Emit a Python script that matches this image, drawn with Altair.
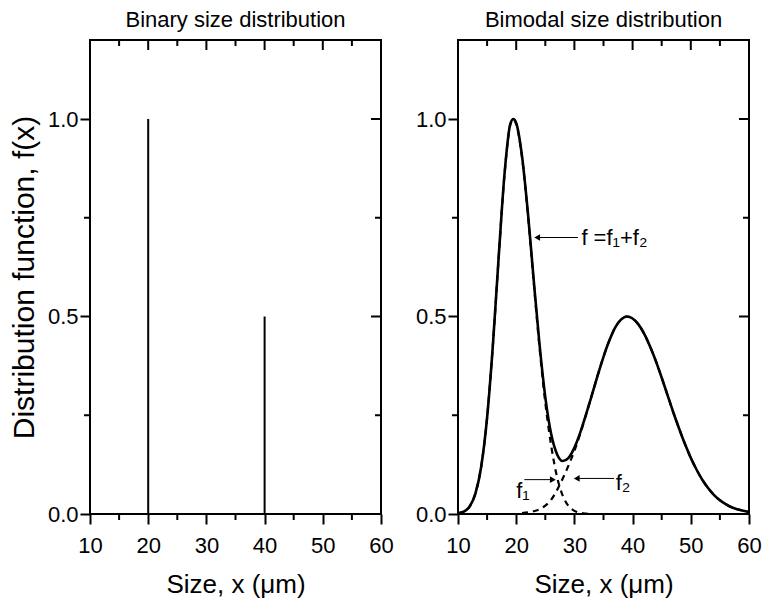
import altair as alt
import pandas as pd

# ---------------- data ----------------
x_vals = [10, 11, 12, 13, 14, 15, 16, 17, 18, 19, 19.5, 20, 21, 22, 23, 24, 25, 26, 27, 28,
          29, 30, 31, 32, 33, 34, 35, 36, 37, 38, 39, 40, 41, 42, 43, 44, 45, 46, 47, 48,
          49, 50, 51, 52, 53, 54, 55, 56, 57, 58, 59, 60]
f_total = [0.002, 0.006, 0.019, 0.052, 0.121, 0.244, 0.429, 0.653, 0.862, 0.988, 1.0, 0.990,
           0.906, 0.764, 0.594, 0.431, 0.296, 0.203, 0.152, 0.134, 0.142, 0.168, 0.206, 0.252,
           0.301, 0.351, 0.398, 0.439, 0.472, 0.492, 0.500, 0.495, 0.480, 0.456, 0.424, 0.387,
           0.345, 0.301, 0.257, 0.216, 0.177, 0.142, 0.112, 0.086, 0.065, 0.048, 0.035, 0.025,
           0.017, 0.012, 0.008, 0.005]

f1_x = [10, 11, 12, 13, 14, 15, 16, 17, 18, 19, 19.5, 20, 21, 22, 23, 24, 25, 26, 27, 28,
        29, 30, 31, 32, 33, 34]
f1_vals = [0.002, 0.006, 0.019, 0.052, 0.121, 0.244, 0.429, 0.652, 0.861, 0.986, 1.0, 0.987,
           0.903, 0.760, 0.588, 0.422, 0.282, 0.174, 0.095, 0.046, 0.020, 0.008, 0.003, 0.001,
           0.0, 0.0]

f2_x = [21, 22, 23, 24, 25, 26, 27, 28, 29, 30, 31, 32, 33, 34, 35, 36, 37, 38, 39, 40,
        41, 42, 43, 44, 45, 46, 47, 48, 49, 50, 51, 52, 53, 54, 55, 56, 57, 58, 59, 60]
f2_vals = [0.002, 0.004, 0.007, 0.012, 0.021, 0.036, 0.060, 0.090, 0.123, 0.160, 0.203,
           0.251, 0.301, 0.351, 0.398, 0.439, 0.472, 0.492, 0.500, 0.495, 0.480, 0.456,
           0.424, 0.387, 0.345, 0.301, 0.257, 0.216, 0.177, 0.142, 0.112, 0.086, 0.065,
           0.048, 0.035, 0.025, 0.017, 0.012, 0.008, 0.005]

binary_x = [20, 40]
binary_h = [1.0, 0.5]

x_major = [10, 20, 30, 40, 50, 60]
x_minor = [15, 25, 35, 45, 55]
y_major = [0.0, 0.5, 1.0]
y_minor = [0.25, 0.75]

panel_titles = ["Binary size distribution", "Bimodal size distribution"]

ann_text = ["f =f\u2081+f\u2082", "f\u2081", "f\u2082"]
ann_x = [31.2, 20.0, 37.1]
ann_y = [0.70, 0.057, 0.078]
arrow_x1 = [23.4, 21.4, 30.2]
arrow_x2 = [30.6, 26.5, 36.8]
arrow_y = [0.70, 0.087, 0.090]
head_x = [23.6, 26.3, 30.4]
head_shape = ["triangle-left", "triangle-right", "triangle-left"]

# ---------------- styling ----------------
W, H = 291, 474
FONT = "Liberation Sans"
xs = alt.Scale(domain=[10, 60], nice=False, zero=False)
ys = alt.Scale(domain=[0, 1.2], nice=False, zero=False)


def x_axis():
    return alt.Axis(values=x_major, format="d", title="Size, x (\u03bcm)")


def y_axis(title):
    return alt.Axis(values=y_major, format=".1f", title=title)


def frame_layers(xa, ya, title):
    layers = []
    for vals, ln in ((x_major, 10), (x_minor, 6)):
        d = pd.DataFrame({"t": vals})
        layers.append(alt.Chart(d).mark_rule(color="black", strokeWidth=2).encode(
            x=alt.X("t:Q", scale=xs, axis=xa), y=alt.value(0), y2=alt.value(ln)))
    layers.append(alt.Chart(pd.DataFrame({"t": x_minor})).mark_rule(color="black", strokeWidth=2).encode(
        x=alt.X("t:Q", scale=xs, axis=xa), y=alt.value(H), y2=alt.value(H + 6)))
    for vals, ln in ((y_major, 10), (y_minor, 6)):
        d = pd.DataFrame({"t": vals})
        layers.append(alt.Chart(d).mark_rule(color="black", strokeWidth=2).encode(
            y=alt.Y("t:Q", scale=ys, axis=ya), x=alt.value(W - ln), x2=alt.value(W)))
    layers.append(alt.Chart(pd.DataFrame({"t": y_minor})).mark_rule(color="black", strokeWidth=2).encode(
        y=alt.Y("t:Q", scale=ys, axis=ya), x=alt.value(-6), x2=alt.value(0)))
    layers.append(alt.Chart(pd.DataFrame({"t": [title]})).mark_text(
        font=FONT, fontSize=22, color="black", align="center", baseline="middle").encode(
        x=alt.value(W / 2), y=alt.value(-20), text="t:N"))
    return layers


# ---------------- left panel ----------------
LX, LY = x_axis(), y_axis("Distribution function, f(x)")
bin_df = pd.DataFrame({"x": binary_x, "h": binary_h, "zero": [0.0] * len(binary_x)})
bars = alt.Chart(bin_df).mark_rule(color="black", strokeWidth=2).encode(
    x=alt.X("x:Q", scale=xs, axis=LX),
    y=alt.Y("zero:Q", scale=ys, axis=LY),
    y2="h:Q",
)
left = alt.layer(bars, *frame_layers(LX, LY, panel_titles[0])).properties(width=W, height=H)

# ---------------- right panel ----------------
RX, RY = x_axis(), y_axis(None)
tot_df = pd.DataFrame({"x": x_vals, "f": f_total})
f1_df = pd.DataFrame({"x": f1_x, "f": f1_vals})
f2_df = pd.DataFrame({"x": f2_x, "f": f2_vals})

dash1 = alt.Chart(f1_df).mark_line(color="black", strokeWidth=2.2, strokeDash=[6, 5],
                                   interpolate="monotone").encode(
    x=alt.X("x:Q", scale=xs, axis=RX), y=alt.Y("f:Q", scale=ys, axis=RY))
dash2 = alt.Chart(f2_df).mark_line(color="black", strokeWidth=2.2, strokeDash=[6, 5],
                                   interpolate="monotone").encode(
    x=alt.X("x:Q", scale=xs, axis=RX), y=alt.Y("f:Q", scale=ys, axis=RY))
solid = alt.Chart(tot_df).mark_line(color="black", strokeWidth=2.6, interpolate="monotone").encode(
    x=alt.X("x:Q", scale=xs, axis=RX),
    y=alt.Y("f:Q", scale=ys, axis=RY),
)

arrow_df = pd.DataFrame({"x1": arrow_x1, "x2": arrow_x2, "y": arrow_y,
                         "hx": head_x, "shape": head_shape})
arrow_lines = alt.Chart(arrow_df).mark_rule(color="black", strokeWidth=1).encode(
    x=alt.X("x1:Q", scale=xs, axis=RX), x2="x2:Q", y=alt.Y("y:Q", scale=ys, axis=RY))
arrow_heads = alt.Chart(arrow_df).mark_point(filled=True, color="black", size=45, opacity=1).encode(
    x=alt.X("hx:Q", scale=xs, axis=RX), y=alt.Y("y:Q", scale=ys, axis=RY),
    shape=alt.Shape("shape:N", scale=None))
ann_df = pd.DataFrame({"t": ann_text, "x": ann_x, "y": ann_y})
ann = alt.Chart(ann_df).mark_text(align="left", baseline="middle", font=FONT, fontSize=22,
                                  color="black").encode(
    x=alt.X("x:Q", scale=xs, axis=RX), y=alt.Y("y:Q", scale=ys, axis=RY), text="t:N")

right = alt.layer(solid, dash1, dash2, arrow_lines, arrow_heads, ann,
                  *frame_layers(RX, RY, panel_titles[1])).properties(width=W, height=H)

chart = alt.hconcat(left, right, spacing=19).properties(
    padding={"left": 0, "top": 0, "right": 0, "bottom": 0}
).configure_view(
    stroke="black", strokeWidth=2
).configure_axis(
    grid=False, domain=False, tickSize=10, tickWidth=2, tickColor="black",
    labelFont=FONT, labelFontSize=22, labelColor="black", labelPadding=2, labelFlush=False,
    titleFont=FONT, titleFontWeight="normal", titleColor="black",
).configure_axisX(
    labelPadding=11, titleFontSize=26, titlePadding=15,
).configure_axisY(
    titleFontSize=30, titlePadding=8,
)

chart.save("out.html", embed_options={"renderer": "svg", "actions": False})
